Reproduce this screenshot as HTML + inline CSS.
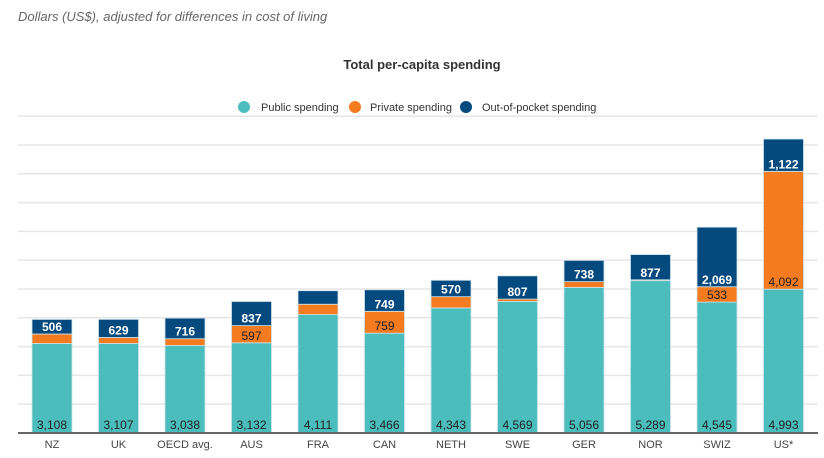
<!DOCTYPE html>
<html><head><meta charset="utf-8"><style>
body{margin:0;background:#fff;font-family:"Liberation Sans",sans-serif;}
svg text{font-family:"Liberation Sans",sans-serif;}
</style></head><body>
<svg id="c" width="824" height="453">
<text x="18" y="21" font-size="13" font-style="italic" fill="#666">Dollars (US$), adjusted for differences in cost of living</text>
<text x="422" y="69" font-size="13" font-weight="bold" fill="#333" text-anchor="middle">Total per-capita spending</text>
<g>
<g><circle cx="244" cy="107" r="6" fill="#4bbdbd"/><text x="261" y="111" font-size="11" fill="#333">Public spending</text></g>
<g><circle cx="355" cy="107" r="6" fill="#f47b20"/><text x="370" y="111" font-size="11" fill="#333">Private spending</text></g>
<g><circle cx="466" cy="107" r="6" fill="#054a7f"/><text x="482" y="111" font-size="11" fill="#333">Out-of-pocket spending</text></g>
</g>
<g id="grid"></g><g id="bars"></g><g id="axis"></g>
</svg>
<script>
const categories=["NZ","UK","OECD avg.","AUS","FRA","CAN","NETH","SWE","GER","NOR","SWIZ","US*"];
const publicVals=[3108,3107,3038,3132,4111,3466,4343,4569,5056,5289,4545,4993];
const privateVals=[330,210,235,597,360,759,390,80,200,30,533,4092];
const oopVals=[506,629,716,837,470,749,570,807,738,877,2069,1122];
const showPrivateLabel=[false,false,false,true,false,true,false,false,false,false,true,true];
const showOopLabel=[true,true,true,true,false,true,true,true,true,true,true,true];
const yTicks=[1000,2000,3000,4000,5000,6000,7000,8000,9000,10000,11000];
const NS="http://www.w3.org/2000/svg";
const base=433,scale=0.0288,x0=52,step=66.5,bw=40;
const y=v=>base-v*scale;
const x=i=>x0+i*step;
const fmt=v=>v.toLocaleString("en-US");
const grid=document.getElementById("grid"),bars=document.getElementById("bars"),axis=document.getElementById("axis");
function mk(tag,at,parent){const e=document.createElementNS(NS,tag);for(const k in at)e.setAttribute(k,at[k]);parent.appendChild(e);return e;}
yTicks.forEach(t=>{const l=mk("line",{x1:18,x2:818,y1:y(t),y2:y(t),stroke:"#e6e6e6","stroke-width":1.5},grid);

});
categories.forEach((c,i)=>{
 const g=mk("g",{},bars);
 
 
 const cx=x(i),lx=cx-bw/2;
 const p0=0,p1=publicVals[i],p2=p1+privateVals[i],p3=p2+oopVals[i];
 const segs=[[p0,p1,"#4bbdbd"],[p1,p2,"#f47b20"],[p2,p3,"#054a7f"]];
 segs.forEach(s=>{const r=mk("rect",{x:lx,y:y(s[1]),width:bw,height:y(s[0])-y(s[1]),fill:s[2],stroke:"#cfe3ea","stroke-width":0.8},g);
 
 });
 const t1=mk("text",{x:cx,y:base-4,"font-size":12,fill:"#222","text-anchor":"middle"},g);t1.textContent=fmt(publicVals[i]);
 
 
 if(showPrivateLabel[i]){const t2=mk("text",{x:cx,y:y(p1)-3,"font-size":12,fill:"#222","text-anchor":"middle"},g);t2.textContent=fmt(privateVals[i]);
 
 }
 if(showOopLabel[i]){const t3=mk("text",{x:cx,y:y(p2)-3,"font-size":12,"font-weight":"bold",fill:"#fff","text-anchor":"middle"},g);t3.textContent=fmt(oopVals[i]);
 
 }
 const tl=mk("text",{x:cx,y:448,"font-size":11,fill:"#444","text-anchor":"middle"},axis);tl.textContent=c;
 
 
});
const bl=mk("line",{x1:18,x2:818,y1:base,y2:base,stroke:"#666","stroke-width":2},axis);


</script>
</body></html>
